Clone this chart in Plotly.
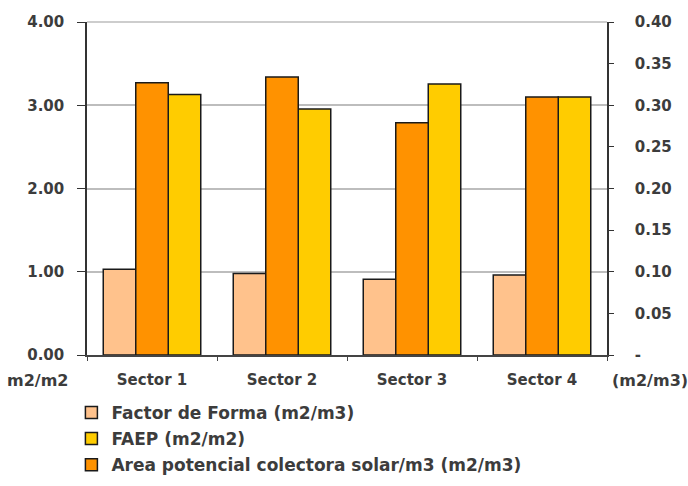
import plotly.graph_objects as go

sectors = ["Sector 1", "Sector 2", "Sector 3", "Sector 4"]
factor_forma = [0.103, 0.098, 0.091, 0.096]      # m2/m3, right axis
area_colectora = [0.327, 0.334, 0.279, 0.310]    # m2/m3, right axis
faep = [3.13, 2.955, 3.255, 3.10]                # m2/m2, left axis

left_ticks = [0, 1, 2, 3, 4]
left_labels = ["0.00", "1.00", "2.00", "3.00", "4.00"]
right_ticks = [0, 0.05, 0.10, 0.15, 0.20, 0.25, 0.30, 0.35, 0.40]
right_labels = ["-", "0.05", "0.10", "0.15", "0.20", "0.25", "0.30", "0.35", "0.40"]

FONT = "DejaVu Sans, Verdana, sans-serif"
TXT = "#3c3c3c"
GRID = "#bdbdbd"
BW = 0.25
line = dict(color="#1a1a1a", width=1.5)
tick_font = dict(family=FONT, size=15, color=TXT, weight="bold")
unit_font = dict(family=FONT, size=16, color=TXT, weight="bold")

fig = go.Figure()
fig.add_trace(go.Bar(x=sectors, y=factor_forma, name="Factor de Forma (m2/m3)",
                     marker=dict(color="#FFC28C", line=line), width=BW, offset=-0.375,
                     yaxis="y2", legendrank=1, legendgroup="ff"))
fig.add_trace(go.Bar(x=sectors, y=area_colectora, name="Area potencial colectora solar/m3 (m2/m3)",
                     marker=dict(color="#FF9200", line=line), width=BW, offset=-0.125,
                     yaxis="y2", legendrank=3, legendgroup="ac"))
fig.add_trace(go.Bar(x=sectors, y=faep, name="FAEP (m2/m2)",
                     marker=dict(color="#FFCC00", line=line), width=BW, offset=0.125,
                     yaxis="y", legendrank=2, legendgroup="fa"))

# gridline along the top edge of the plot area (the 4.00 level)
fig.add_shape(type="line", xref="paper", yref="paper", x0=0, x1=1, y0=1, y1=1,
              line=dict(color=GRID, width=1.5), layer="above")

fig.update_layout(
    width=688, height=486,
    margin=dict(l=87, r=81, t=22, b=131, autoexpand=False),
    paper_bgcolor="white", plot_bgcolor="white",
    font=dict(family=FONT, size=15, color=TXT),
    barmode="overlay",
    xaxis=dict(showline=True, linecolor="#444", linewidth=1.5, ticks="outside",
               tickson="boundaries", ticklen=4, tickcolor="#444",
               tickfont=tick_font, ticklabelstandoff=10, range=[-0.5, 3.5]),
    yaxis=dict(range=[0, left_ticks[-1]], tickvals=left_ticks, ticktext=left_labels,
               showline=True, linecolor="#333", linewidth=1.5, ticks="outside",
               ticklen=8, tickcolor="#333", showgrid=True, gridcolor=GRID,
               gridwidth=1.5, zeroline=False, tickfont=tick_font, ticklabelstandoff=10),
    yaxis2=dict(range=[0, right_ticks[-1]], tickvals=right_ticks, ticktext=right_labels,
                overlaying="y", side="right", showline=True, linecolor="#333",
                linewidth=1.5, ticks="outside", ticklen=5, tickcolor="#333",
                showgrid=False, zeroline=False, tickfont=tick_font, ticklabelstandoff=18),
    legend=dict(x=-0.03, y=-0.12, xanchor="left", yanchor="top",
                font=dict(family=FONT, size=17, color=TXT, weight="bold"),
                bgcolor="rgba(0,0,0,0)", itemwidth=30, tracegroupgap=1),
    showlegend=True,
    annotations=[
        dict(text="m2/m2", xref="paper", yref="paper", x=-0.095, y=-0.077,
             xanchor="center", yanchor="middle", showarrow=False, font=unit_font),
        dict(text="(m2/m3)", xref="paper", yref="paper", x=1.083, y=-0.077,
             xanchor="center", yanchor="middle", showarrow=False, font=unit_font),
    ],
)

fig.write_html("out.html")
